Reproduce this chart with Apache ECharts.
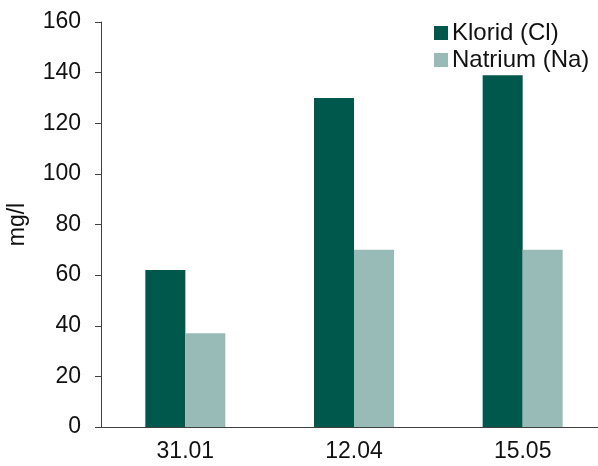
<!DOCTYPE html>
<html>
<head>
<meta charset="utf-8">
<script src="https://cdn.jsdelivr.net/npm/echarts@6/dist/echarts.min.js"></script>
<style>
  html, body { margin: 0; padding: 0; background: #ffffff; }
  #chart { width: 598px; height: 466px; }
</style>
</head>
<body>
<div id="chart"></div>
<script>
// Sampling dates and measured concentrations (mg/l)
const dates = ['31.01', '12.04', '15.05'];
const kloridValues = [62, 130, 139];
const natriumValues = [37, 70, 70];
const yTicks = [0, 20, 40, 60, 80, 100, 120, 140, 160];

const FONT = '"Liberation Sans", Arial, sans-serif';
const TEXT = '#111111';

const chart = echarts.init(document.getElementById('chart'), null, { renderer: 'canvas' });

chart.setOption({
  animation: false,
  backgroundColor: '#ffffff',
  // the plot area runs slightly past the right edge of the canvas
  grid: { left: 101, top: 22, width: 506, height: 405, containLabel: false, outerBoundsMode: 'none' },
  legend: {
    orient: 'vertical',
    left: 429,
    top: 16,
    itemWidth: 14,
    itemHeight: 14,
    itemGap: 3,
    icon: 'rect',
    textStyle: { fontFamily: FONT, fontSize: 24, color: TEXT, lineHeight: 24, padding: [0, 0, 0, -1] },
    data: ['Klorid (Cl)', 'Natrium (Na)']
  },
  xAxis: {
    type: 'category',
    data: dates,
    axisLine: { lineStyle: { color: '#404040', width: 1 } },
    axisTick: { show: false },
    axisLabel: { fontFamily: FONT, fontSize: 23, color: TEXT, margin: 13 }
  },
  yAxis: {
    type: 'value',
    min: yTicks[0],
    max: yTicks[yTicks.length - 1],
    interval: yTicks[1] - yTicks[0],
    name: 'mg/l',
    nameLocation: 'middle',
    nameRotate: 90,
    nameGap: 72,
    nameTextStyle: { fontFamily: FONT, fontSize: 23, color: TEXT },
    axisLine: { show: true, lineStyle: { color: '#404040', width: 1 } },
    axisTick: { show: true, inside: false, length: 6, lineStyle: { color: '#404040' } },
    splitLine: { show: false },
    axisLabel: { fontFamily: FONT, fontSize: 23, color: TEXT, margin: 20 }
  },
  series: [
    {
      name: 'Klorid (Cl)',
      type: 'bar',
      data: kloridValues,
      barWidth: 40,
      barGap: '0%',
      itemStyle: { color: '#00574b' }
    },
    {
      name: 'Natrium (Na)',
      type: 'bar',
      data: natriumValues,
      barWidth: 40,
      barGap: '0%',
      itemStyle: { color: '#99bbb7' }
    }
  ]
});
</script>
</body>
</html>
